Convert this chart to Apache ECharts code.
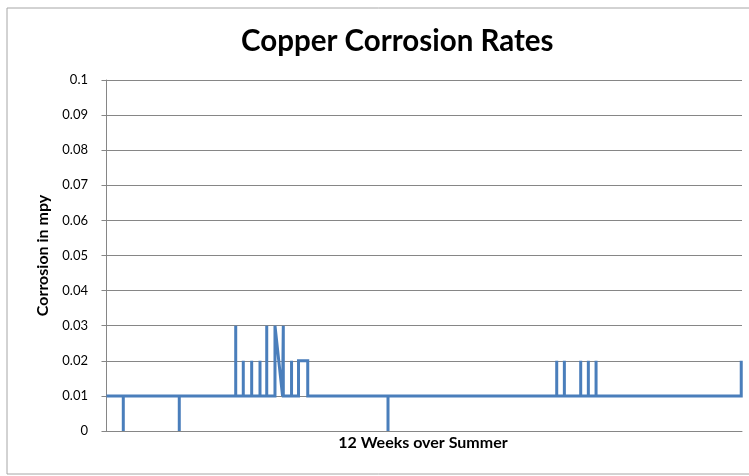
<!DOCTYPE html>
<html><head><meta charset="utf-8">
<script src="https://cdn.jsdelivr.net/npm/echarts@6/dist/echarts.min.js"></script>
<style>html,body{margin:0;padding:0;background:#fff}#c{width:749px;height:476px}</style>
</head><body><div id="c"></div>
<script>
// Time of each reading (days into the 12-week period) and the corrosion rate (mpy)
const days = [
  0, 2.22, 2.22, 2.22, 9.62, 9.62, 9.62,
  17.08, 17.08, 17.08, 18.08, 18.08, 18.08, 19.19, 19.19, 19.19, 20.29, 20.29, 20.29,
  21.18, 21.18, 21.18, 22.27, 22.27, 23.27, 23.37, 23.37, 24.46, 24.46, 24.46,
  25.38, 25.38, 26.6, 26.6,
  37.21, 37.21, 37.21,
  59.51, 59.51, 59.51, 60.52, 60.52, 60.52, 62.68, 62.68, 62.68, 63.69, 63.69, 63.69, 64.71, 64.71, 64.71,
  83.9, 83.9
];
const rates = [
  0.01, 0.01, 0, 0.01, 0.01, 0, 0.01,
  0.01, 0.03, 0.01, 0.01, 0.02, 0.01, 0.01, 0.02, 0.01, 0.01, 0.02, 0.01,
  0.01, 0.03, 0.01, 0.01, 0.03, 0.01, 0.03, 0.01, 0.01, 0.02, 0.01,
  0.01, 0.02, 0.02, 0.01,
  0.01, 0, 0.01,
  0.01, 0.02, 0.01, 0.01, 0.02, 0.01, 0.01, 0.02, 0.01, 0.01, 0.02, 0.01, 0.01, 0.02, 0.01,
  0.01, 0.02
];
const yTicks = ['0','0.01','0.02','0.03','0.04','0.05','0.06','0.07','0.08','0.09','0.1'];

const chart = echarts.init(document.getElementById('c'), null, {renderer:'canvas'});
const fontFam = 'Lato, "Liberation Sans", sans-serif';
chart.setOption({
  animation:false,
  backgroundColor:'#fff',
  graphic:[{type:'rect', shape:{x:7, y:8, width:820, height:466}, style:{fill:'none', stroke:'#a6a6a6', lineWidth:1}, silent:true}],
  title:{text:'Copper Corrosion Rates', left:236, top:21,
    textStyle:{fontFamily:fontFam, fontSize:29.5, fontWeight:'bold', color:'#000'}},
  grid:{left:104, right:7, top:80, bottom:45, containLabel:false},
  xAxis:{type:'value', min:-0.33, max:84,
    name:'12 Weeks over Summer', nameLocation:'middle', nameGap:4,
    nameTextStyle:{fontFamily:fontFam, fontSize:16, fontWeight:'bold', color:'#000'},
    axisLine:{show:true, lineStyle:{color:'#868686', width:1}},
    axisTick:{show:false}, axisLabel:{show:false}, splitLine:{show:false}},
  yAxis:{type:'value', min:0, max:0.1, interval:0.01,
    name:'Corrosion in mpy', nameLocation:'middle', nameGap:53,
    nameTextStyle:{fontFamily:fontFam, fontSize:16, fontWeight:'bold', color:'#000'},
    axisLine:{show:true, lineStyle:{color:'#868686', width:1}},
    axisTick:{show:true, length:5, inside:false, lineStyle:{color:'#868686'}},
    axisLabel:{margin:16, fontFamily:fontFam, fontSize:13, color:'#000',
      formatter:(v,i)=>yTicks[i]},
    splitLine:{show:true, lineStyle:{color:'#868686', width:1}}},
  series:[{type:'line', data:days.map((d,i)=>[d,rates[i]]), showSymbol:false, symbol:'none',
    lineStyle:{color:'#4a7ebb', width:3, join:'miter', cap:'butt'}, clip:false}]
});
</script></body></html>
